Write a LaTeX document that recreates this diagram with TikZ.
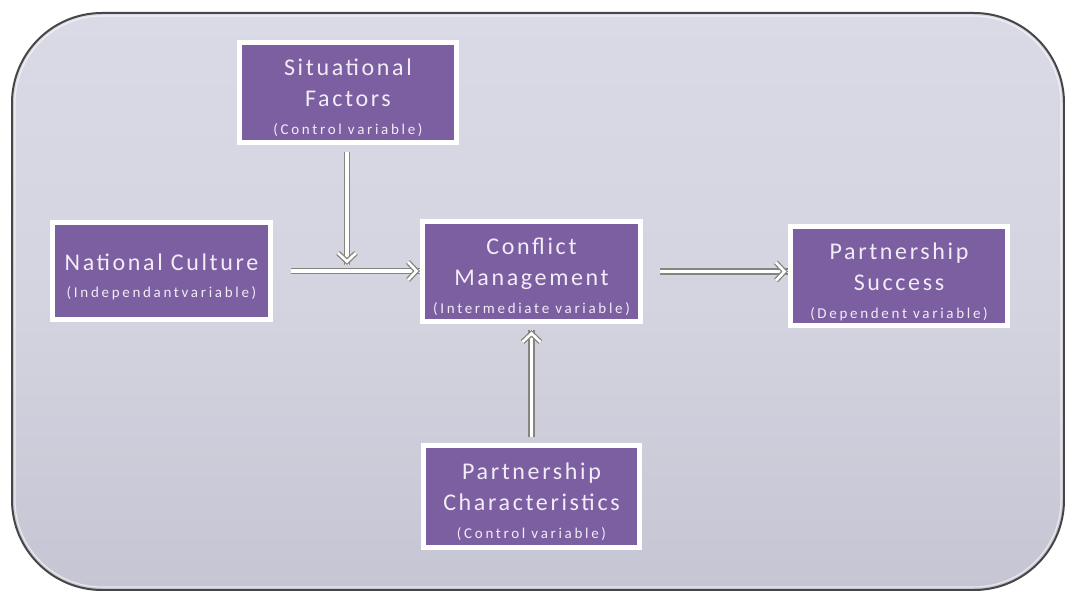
\documentclass[tikz,border=0pt]{standalone}
\usepackage{fontspec}
\setmainfont{Carlito}
\newfontfamily\titlefont[LetterSpace=11]{Carlito}
\newfontfamily\subfont[LetterSpace=18]{Carlito}
\usetikzlibrary{calc,shadows,decorations.markings}
\definecolor{boxpurple}{HTML}{7B5FA1}
\definecolor{txtcol}{HTML}{F2ECF6}
\definecolor{bgtop}{HTML}{DADAE6}
\definecolor{bgbot}{HTML}{C6C5D3}
\definecolor{arrgray}{HTML}{85857F}
\tikzset{
  varbox/.style={fill=boxpurple, draw=white, line width=5pt, align=center,
    text=txtcol, inner sep=0pt, font=\titlefont\fontsize{24}{31}\selectfont,
    drop shadow={opacity=0.25, shadow xshift=1.5pt, shadow yshift=-2pt}},
  dblarrow/.style={draw=arrgray, double=white, double distance=3.5pt, line width=1.4pt,
    postaction={decorate, decoration={markings, mark=at position 1 with {
      \draw[arrgray, double=white, double distance=2.6pt, line width=1.3pt, line join=miter]
        (-12pt,-9pt) -- (-3.5pt,0pt) -- (-12pt,9pt);}}}},
}
\newcommand{\sbt}[1]{{\subfont\fontsize{15}{28}\selectfont #1}}
\newcommand{\pad}{\rule{0pt}{28pt}}
\begin{document}
\begin{tikzpicture}[x=1pt,y=-1pt]
\useasboundingbox (0,0) rectangle (1065,591);
\fill[white] (0,0) rectangle (1065,591);
\shade[top color=bgtop, bottom color=bgbot, middle color=bgtop!70!bgbot, rounded corners=90pt, draw=gray!55!black, line width=2pt]
  (12,13) rectangle (1064,590);
\draw[white, opacity=0.6, line width=1.2pt, rounded corners=87pt] (15,16) rectangle (1061,587);
\node[varbox, minimum width=217pt, minimum height=100pt] (sit) at (348,92.5)
  {\pad Situational\\Factors\\[-3pt]\sbt{(Control variable)}};
\node[varbox, minimum width=218pt, minimum height=97pt] (nat) at (161.5,271)
  {\pad National Culture\\[-4pt]\sbt{(Independantvariable)}};
\node[varbox, minimum width=218pt, minimum height=100pt] (conf) at (531.5,271.5)
  {\pad Conflict\\Management\\[-3pt]\sbt{(Intermediate variable)}};
\node[varbox, minimum width=217pt, minimum height=99pt] (succ) at (899,276)
  {\pad Partnership\\Success\\[-3pt]\sbt{(Dependent variable)}};
\node[varbox, minimum width=216pt, minimum height=102pt] (char) at (531.5,496.5)
  {\pad Partnership\\Characteristics\\[-3pt]\sbt{(Control variable)}};
\coordinate (m) at (347,265);
\draw[dblarrow] ($(sit.south -| m)+(0,7)$) -- (m);
\draw[dblarrow] ($(nat.east)+(18,0)$) -- (nat.east -| conf.west);
\draw[dblarrow] ($(conf.east)+(17,0)$) -- (conf.east -| succ.west);
\draw[dblarrow] ($(char.north)+(0,-6)$) -- ($(conf.south)+(0,6)$);
\end{tikzpicture}
\end{document}
